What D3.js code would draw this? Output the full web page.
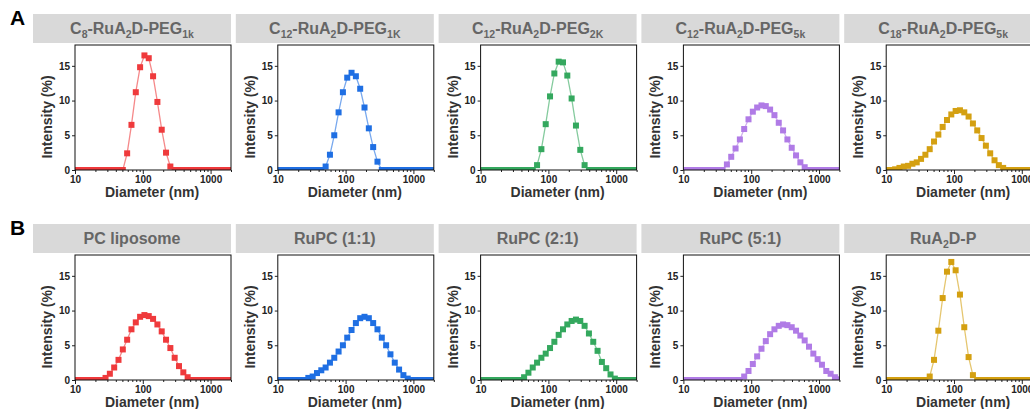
<!DOCTYPE html>
<html>
<head>
<meta charset="utf-8">
<script src="https://cdnjs.cloudflare.com/ajax/libs/d3/7.8.5/d3.min.js"></script>
<style>
    body { margin: 0; background: #fff; }
    text { font-family: Arial, "Liberation Sans", sans-serif; font-weight: bold; }
</style>
</head>
<body>
<script>
// DLS size bins (nm) shown between 10 and 2000 nm
const sizes = [10.1, 11.7, 13.54, 15.69, 18.17, 21.04, 24.36, 28.21, 32.67, 37.84,
    43.82, 50.75, 58.77, 68.06, 78.82, 91.28, 105.7, 122.4, 141.8, 164.2,
    190.1, 220.2, 255.0, 295.3, 342.0, 396.1, 458.7, 531.2, 615.1, 712.4,
    825.0, 955.4, 1106, 1281, 1484, 1718, 1990];

// intensity (%) per bin, row A
const c8Peg1k = [0,0,0,0,0,0,0,0,0,0,0,0, 2.4,6.5,11.2,14.8,16.5,16.1,13.5,9.8,5.8,2.5,0.5, 0,0,0,0,0,0,0,0,0,0,0,0,0,0];
const c12Peg1k = [0,0,0,0,0,0,0,0,0,0,0, 0.5,2.2,5.0,8.3,11.2,13.3,14.0,13.5,11.7,9.0,6.0,3.3,1.2, 0,0,0,0,0,0,0,0,0,0,0,0,0];
const c12Peg2k = [0,0,0,0,0,0,0,0,0,0,0,0,0, 0.7,3.0,6.6,10.6,13.9,15.6,15.5,13.6,10.3,6.4,2.9,0.7, 0,0,0,0,0,0,0,0,0,0,0,0];
const c12Peg5k = [0,0,0,0,0,0,0,0,0,0, 0.8,1.9,3.1,4.4,5.9,7.3,8.4,9.0,9.3,9.2,8.7,7.9,6.8,5.7,4.4,3.2,2.1,1.1,0.4, 0,0,0,0,0,0,0,0];
const c18Peg5k = [0,0, 0.1,0.3,0.5,0.6,0.9,1.1,1.6,2.2,3.0,4.1,5.1,6.2,7.2,8.0,8.5,8.6,8.3,7.7,6.7,5.7,4.6,3.5,2.4,1.4,0.7,0.3, 0,0,0,0,0,0,0,0,0];

// row B
const pcLiposome = [0,0,0,0,0,0,0, 0.3,0.9,1.8,2.9,4.4,5.8,7.3,8.3,9.1,9.35,9.2,8.8,8.0,7.0,5.8,4.6,3.2,2.0,1.1,0.4, 0,0,0,0,0,0,0,0,0,0];
const ruPc11 = [0,0,0,0,0,0,0, 0.3,0.5,1.0,1.4,1.8,2.5,3.2,4.1,5.0,6.1,7.2,8.2,8.9,9.1,8.9,8.2,7.3,6.1,5.0,3.7,2.5,1.5,0.7,0.2, 0,0,0,0,0,0];
const ruPc21 = [0,0,0,0,0,0,0,0,0,0, 0.4,1.05,1.8,2.5,3.2,3.8,4.6,5.5,6.5,7.3,8.0,8.5,8.7,8.5,7.8,6.7,5.5,4.2,2.6,1.7,0.8,0.2, 0,0,0,0,0];
const ruPc51 = [0,0,0,0,0,0,0,0,0,0,0,0,0,0, 0.5,1.3,2.3,3.4,4.5,5.6,6.6,7.3,7.8,8.0,7.9,7.6,7.1,6.4,5.7,4.8,3.8,3.0,2.2,1.3,0.9,0.4,0.1];
const ruA2dP = [0,0,0,0,0,0,0,0,0,0, 0.5,2.9,7.1,11.8,15.6,17.0,15.8,12.3,7.6,3.3,0.7, 0,0,0,0,0,0,0,0,0,0,0,0,0,0,0,0];

// titles: [text, isSubscript]
const titlesA = [
    [["C"], ["8", 1], ["-RuA"], ["2", 1], ["D-PEG"], ["1k", 1]],
    [["C"], ["12", 1], ["-RuA"], ["2", 1], ["D-PEG"], ["1K", 1]],
    [["C"], ["12", 1], ["-RuA"], ["2", 1], ["D-PEG"], ["2K", 1]],
    [["C"], ["12", 1], ["-RuA"], ["2", 1], ["D-PEG"], ["5k", 1]],
    [["C"], ["18", 1], ["-RuA"], ["2", 1], ["D-PEG"], ["5k", 1]]
];
const titlesB = [
    [["PC liposome"]],
    [["RuPC (1:1)"]],
    [["RuPC (2:1)"]],
    [["RuPC (5:1)"]],
    [["RuA"], ["2", 1], ["D-P"]]
];

const colors = ["#ef3a3c", "#1f6fe3", "#34a85e", "#b07be6", "#d4a011"];
const xMajor = [10, 100, 1000];
const xMinor = [20, 30, 40, 50, 60, 70, 80, 90, 200, 300, 400, 500, 600, 700, 800, 900, 2000];
const yTicks = [0, 5, 10, 15];

const rows = [
    { letter: "A", top: 45, titles: titlesA, series: [c8Peg1k, c12Peg1k, c12Peg2k, c12Peg5k, c18Peg5k] },
    { letter: "B", top: 255, titles: titlesB, series: [pcLiposome, ruPc11, ruPc21, ruPc51, ruA2dP] }
];

const plotW = 156, plotH = 125, firstLeft = 75, step = 202.8;

const svg = d3.select("body")
    .append("svg")
    .attr("width", 1030)
    .attr("height", 409);

svg.append("defs")
    .append("clipPath")
    .attr("id", "plotClip")
    .append("rect")
    .attr("width", plotW)
    .attr("height", plotH);

const x = d3.scaleLog().domain([10, 2000]).range([0, plotW]);
const y = d3.scaleLinear().domain([0, 18]).range([plotH, 0]);

const line = d3.line()
    .x(d => x(d.size))
    .y(d => y(d.value));

rows.forEach(row => {
    svg.append("text")
        .text(row.letter)
        .attr("x", 10)
        .attr("y", row.top - 20)
        .attr("font-size", 21)
        .attr("fill", "#000");

    row.series.forEach((values, i) => {
        const pts = values.map((v, k) => ({ size: sizes[k], value: v }));
        const g = svg.append("g")
            .attr("transform", `translate(${firstLeft + i * step},${row.top})`);

        // grey title strip
        g.append("rect")
            .attr("x", -42)
            .attr("y", -31)
            .attr("width", 198)
            .attr("height", 29)
            .attr("fill", "#d9d9d9");

        const title = g.append("text")
            .attr("x", 57)
            .attr("y", -11)
            .attr("text-anchor", "middle")
            .attr("font-size", 16)
            .attr("fill", "#666");
        let shift = 0;
        row.titles[i].forEach(p => {
            const dy = p[1] ? 4 - shift : -shift;
            shift += dy;
            title.append("tspan")
                .text(p[0])
                .attr("dy", dy)
                .attr("font-size", p[1] ? 10.5 : 16);
        });

        // data
        const plot = g.append("g").attr("clip-path", "url(#plotClip)");
        plot.append("path")
            .datum(pts)
            .attr("d", line)
            .attr("fill", "none")
            .attr("stroke", colors[i])
            .attr("stroke-opacity", 0.6)
            .attr("stroke-width", 1.3);
        plot.selectAll("rect")
            .data(pts)
            .enter()
            .append("rect")
            .attr("x", d => x(d.size) - 3)
            .attr("y", d => y(d.value) - 3)
            .attr("width", 6)
            .attr("height", 6)
            .attr("fill", colors[i]);

        // axes
        const xAxis = g.append("g")
            .attr("transform", `translate(0,${plotH})`)
            .call(d3.axisBottom(x).tickValues(xMajor).tickSize(4).tickPadding(2).tickFormat(d3.format("d")));
        g.append("g")
            .attr("transform", `translate(0,${plotH})`)
            .call(d3.axisBottom(x).tickValues(xMinor).tickSize(2).tickFormat(""))
            .select(".domain").remove();
        const yAxis = g.append("g")
            .call(d3.axisLeft(y).tickValues(yTicks).tickSize(3).tickPadding(2));
        [xAxis, yAxis].forEach(a => {
            a.select(".domain").remove();
            a.selectAll("text")
                .attr("font-size", 10)
                .attr("font-family", "Arial, 'Liberation Sans', sans-serif")
                .attr("font-weight", "bold")
                .attr("fill", "#222");
        });
        g.selectAll(".tick line").attr("stroke", "#222");

        g.append("rect")
            .attr("width", plotW)
            .attr("height", plotH)
            .attr("fill", "none")
            .attr("stroke", "#111")
            .attr("stroke-width", 1);

        g.append("text")
            .text("Diameter (nm)")
            .attr("x", plotW / 2 - 1)
            .attr("y", plotH + 27)
            .attr("text-anchor", "middle")
            .attr("font-size", 14)
            .attr("fill", "#333");

        g.append("text")
            .text("Intensity (%)")
            .attr("transform", `translate(-23,72) rotate(-90)`)
            .attr("text-anchor", "middle")
            .attr("font-size", 14)
            .attr("fill", "#333");
    });
});
</script>
</body>
</html>
